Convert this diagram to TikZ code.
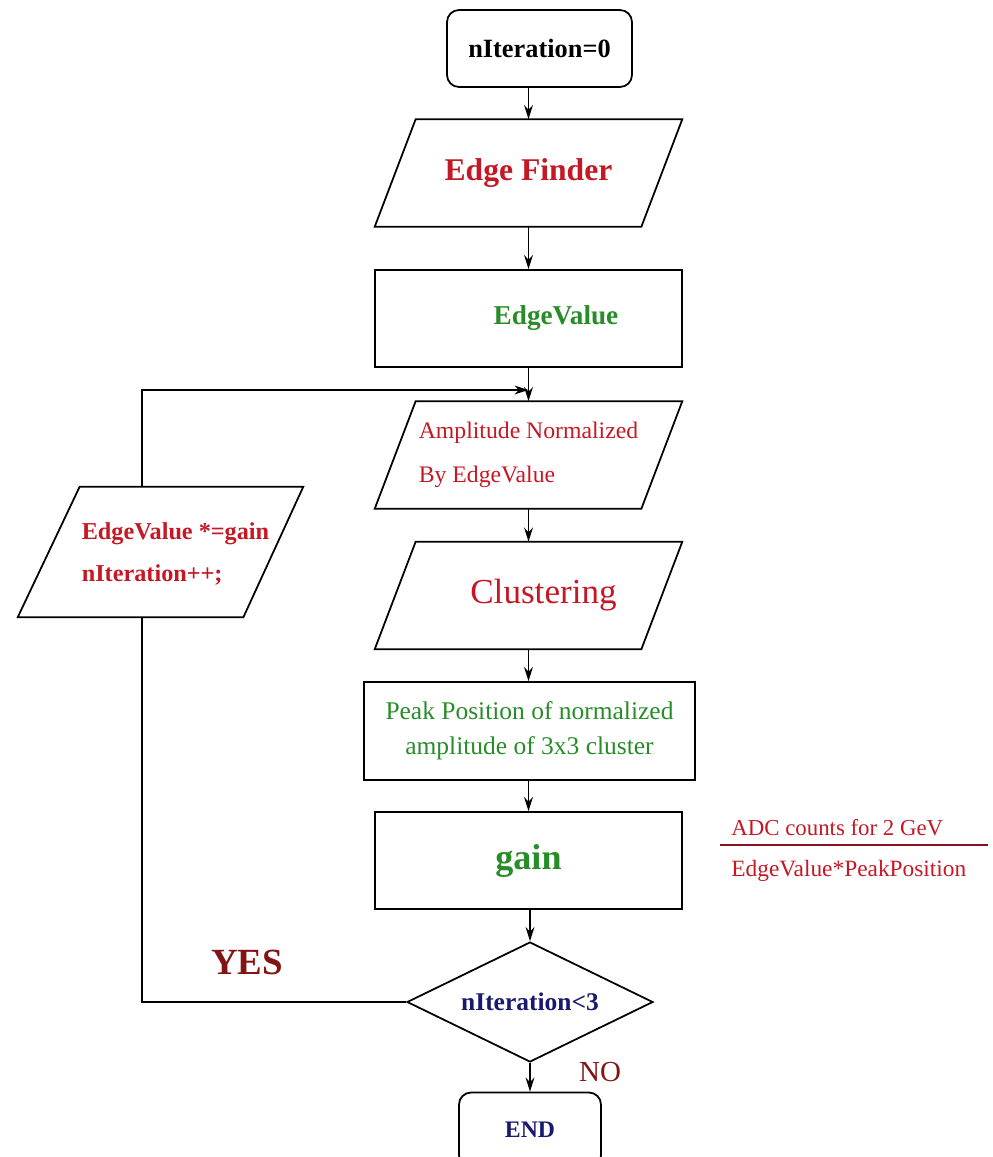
\documentclass[tikz,border=0pt]{standalone}
\usepackage{fontspec}
\setmainfont{Liberation Serif}
\usetikzlibrary{arrows.meta,shapes.geometric}
\definecolor{flowred}{RGB}{196,24,36}
\definecolor{flowgreen}{RGB}{40,140,40}
\definecolor{flowdark}{RGB}{130,20,20}
\definecolor{flownavy}{RGB}{25,25,110}

\begin{document}
\begin{tikzpicture}[x=0.02cm,y=-0.02cm,
        every node/.style={inner sep=0pt},
        termbox/.style={draw,line width=1pt,rounded corners=0.24cm},
        procbox/.style={draw,line width=1pt,minimum width=6.14cm,minimum height=1.94cm},
        iobox/.style={minimum width=6.14cm,minimum height=2.14cm},
        arr/.style={-{Stealth[length=8pt,width=5pt]},line width=1pt}]
        \useasboundingbox (0,0) rectangle (992,1157);
        \clip (0,0) rectangle (992,1157);

        \node[termbox,minimum width=3.7cm,minimum height=1.54cm,font=\fontsize{15}{18}\selectfont\bfseries]
            (init) at (539.5,48.5) {nIteration=0};
        \node[iobox,text=flowred,font=\fontsize{18}{22}\selectfont\bfseries]
            (finder) at (528.5,173) {Edge Finder};
        \node[procbox,text=flowgreen,font=\fontsize{15.5}{18}\selectfont\bfseries]
            (evalue) at (528.5,318.5) {\hspace*{1.1cm}EdgeValue};
        \node[iobox,text=flowred,align=left,font=\fontsize{13.5}{25}\selectfont]
            (ampl) at (528.5,455) {Amplitude Normalized\\ By EdgeValue};
        \node[iobox,text=flowred,font=\fontsize{20}{24}\selectfont]
            (clust) at (528.5,595.5) {\hspace*{0.6cm}Clustering};
        \node[procbox,minimum width=6.62cm,minimum height=1.96cm,text=flowgreen,align=center,
            font=\fontsize{14.5}{20}\selectfont] (peak) at (529.5,731) {Peak Position of normalized\\amplitude of 3x3 cluster};
        \node[procbox,text=flowgreen,font=\fontsize{20.5}{24}\selectfont\bfseries]
            (gain) at (528.5,860.5) {gain};
        \node[draw,line width=1pt,diamond,aspect=2.05,minimum width=4.92cm,minimum height=2.4cm,
            text=flownavy,font=\fontsize{14.5}{17}\selectfont\bfseries] (test) at (530,1002) {nIteration<3};
        \node[termbox,minimum width=2.84cm,minimum height=1.5cm,text=flownavy,font=\fontsize{13.5}{16}\selectfont\bfseries]
            (finish) at (530,1130) {END};
        \node[iobox,minimum width=5.7cm,minimum height=2.6cm,text=flowred,align=left,
            font=\fontsize{13.8}{24}\selectfont\bfseries] (update) at (160.5,552) {\hspace*{0.6cm}\raisebox{-4pt}{\begin{tabular}{@{}l@{}}EdgeValue *=gain\\nIteration++;\end{tabular}}};

        \foreach \n in {finder,ampl,clust}
            \draw[line width=1pt] ([xshift=0.82cm]\n.north west) -- (\n.north east)
                -- ([xshift=-0.82cm]\n.south east) -- (\n.south west) -- cycle;
        \draw[line width=1pt] ([xshift=1.24cm]update.north west) -- (update.north east)
            -- ([xshift=-1.2cm]update.south east) -- (update.south west) -- cycle;

        \node[anchor=west,text=flowred,font=\fontsize{13}{15}\selectfont] (num) at (731,828) {ADC counts for 2 GeV};
        \node[anchor=west,text=flowred,font=\fontsize{13.3}{15}\selectfont] (den) at (731,871) {EdgeValue*PeakPosition};
        \node[text=flowdark,font=\fontsize{21}{24}\selectfont\bfseries] (yes) at (247,962) {YES};
        \node[text=flowdark,font=\fontsize{16.5}{19}\selectfont] (no) at (600,1072) {NO};

        \coordinate (fracl) at (720,845);
        \coordinate (fracr) at (988,845);
        \coordinate (loop) at (142,390);
        \coordinate (join) at (528.5,390);

        \draw[line width=1pt,flowred!70!black] (fracl) -- (fracr);
        \draw[arr] (init.south -| finder.north) -- (finder.north);
        \draw[arr] (finder.south) -- (evalue.north);
        \draw[arr] (evalue.south) -- (ampl.north);
        \draw[arr] (update.north -| loop) -- (loop) -- (join);
        \draw[arr] (ampl.south) -- (clust.north);
        \draw[arr] (clust.south) -- (peak.north -| clust.south);
        \draw[arr] (peak.south -| gain.north) -- (gain.north);
        \draw[arr] (gain.south -| test.north) -- (test.north);
        \draw[arr] (test.south) -- (finish.north);
        \draw[line width=1pt] (test.west) -- (test.west -| loop) -- (update.south -| loop);
\end{tikzpicture}
\end{document}
